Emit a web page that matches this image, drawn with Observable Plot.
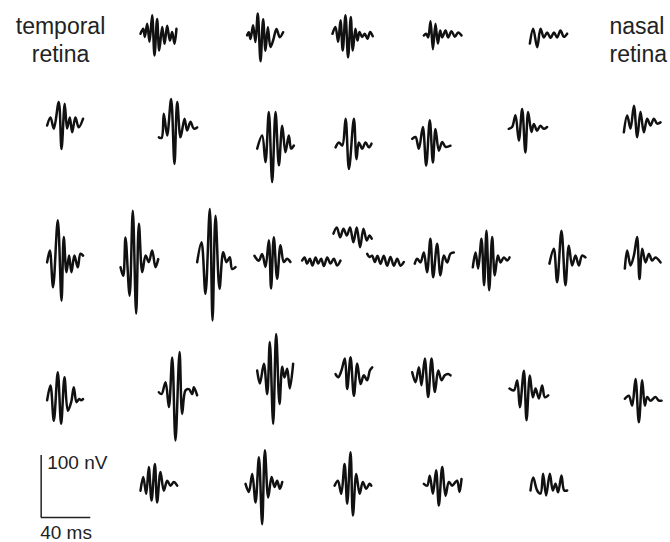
<!DOCTYPE html>
<html>
<head>
<meta charset="utf-8">
<script src="https://cdn.jsdelivr.net/npm/d3@7"></script>
<script src="https://cdn.jsdelivr.net/npm/@observablehq/plot@0.6"></script>
<style>
  body { margin: 0; background: #fff; }
  #chart { width: 670px; height: 542px; }
</style>
</head>
<body>
<div id="chart"></div>
<script>
// Multifocal responses: each trace is a list of [time after onset (ms), amplitude (nV)] vertices.
// Each element of the array has an onset (ms) and a baseline (nV) in the recording frame.

// Row 1 (top)
const row1Onset = [112.9, 198.9, 267.7, 341.4, 426.9];
const row1Baseline = [820.5, 816.1, 820.5, 817.7, 817.7];
const row1Responses = [
  [[0,0],[2.2,8],[3.5,-5],[5.4,16],[7.3,-13],[9.4,30],[11.3,-35],[13.4,24],[15.1,-27],[17.5,11],[19.4,-16],[21.5,13],[23.7,-11],[25.5,3],[27.4,-16],[29,8]],
  [[0,2],[1.3,7],[2.7,-4],[4.8,18],[6.7,-9],[8.6,37],[10.8,-40],[12.9,28],[14.8,-23],[16.7,15],[18.8,-17],[21,-6],[23.7,12],[26.3,-1],[29,7]],
  [[0,0],[2.4,11],[4.6,-13],[6.5,22],[8.3,-27],[10.5,30],[12.6,-38],[14.8,27],[16.4,-27],[18.5,8],[20.2,-11],[21.8,3],[23.9,-5],[26.1,0],[28.2,-8],[30.4,3],[32.5,-4]],
  [[0,0],[1.9,3],[3.5,-3],[5.4,23],[7.3,-22],[9.4,19],[11.3,-13],[13.2,8],[14.8,-3],[17.5,8],[19.6,-3],[22.3,7],[25,-2],[27.7,5],[30.4,0]],
  [[0,-13],[2.7,11],[5.9,-19],[8.6,11],[11.3,-3],[14,5],[16.7,-4],[19.4,5],[22,-3],[24.7,8],[27.4,-2],[30.1,3]]
];

// Row 2
const row2Onset = [37.6, 127.7, 207.0, 270.2, 332.0, 409.9, 502.7];
const row2Baseline = [672.6, 656.5, 640.3, 640.3, 643.0, 667.2, 672.6];
const row2Responses = [
  [[0,0],[2.7,13],[5.4,-5],[9.4,38],[11.6,-38],[14.2,35],[16.1,-5],[18.3,13],[20.2,-11],[22.8,13],[25.5,-3],[29,11]],
  [[0,-3],[2.2,-4],[4,35],[6.7,0],[9.9,59],[12.6,-46],[14.8,54],[17.5,-3],[20.7,27],[22.8,8],[25.5,22],[28.2,11],[30.9,13]],
  [[0,-5],[4,16],[6.7,-27],[9.4,54],[12.1,-59],[14.8,54],[17.5,-32],[20.2,32],[22.8,-11],[25.5,16],[27.4,-5],[29.6,0]],
  [[0,-3],[2.7,5],[5.4,0],[8.1,43],[10.8,-38],[14.8,43],[16.9,-22],[18.8,5],[21.5,-5],[24.2,5],[26.9,-3],[29,3]],
  [[0,8],[2.7,11],[5.4,-8],[8.6,27],[11.3,-35],[14.2,38],[16.7,-30],[18.8,24],[21.5,-11],[24.2,3],[26.9,-5],[30.9,-3]],
  [[0,0],[2.7,3],[5.4,22],[8.1,-19],[10.8,32],[13.4,-38],[15.6,27],[18.3,-5],[20.2,8],[22.8,-3],[25.5,5],[28.2,0],[30.9,3]],
  [[0,-11],[2.7,16],[5.4,-5],[8.1,32],[10.8,-19],[13.4,22],[16.1,-11],[18.8,11],[21.5,0],[24.2,11],[26.9,3],[29.6,5]]
];

// Row 3 (middle)
const row3Onset = [37.6, 96.8, 158.6, 204.8, 243.3, 268.5, 295.7, 334.1, 380.9, 442.7, 503.5];
const row3Baseline = [454.8, 452.1, 452.1, 457.5, 454.8, 495.2, 457.5, 454.8, 454.8, 454.8, 454.8];
const row3Responses = [
  [[0,-3],[2.2,16],[4.8,-43],[8.6,65],[11.6,-65],[13.4,38],[15.6,-19],[17.7,8],[19.6,-19],[22,8],[24.7,-11],[26.9,11],[29,8]],
  [[0,-8],[2.2,-22],[4,40],[7.3,-54],[9.9,83],[12.6,-83],[14.8,62],[17.5,-16],[20.2,11],[22.8,0],[25.5,19],[28.2,-8],[30.4,5]],
  [[0,0],[3.5,32],[6.7,-51],[10.2,86],[12.4,-94],[14.8,75],[18,-43],[21,16],[23.7,0],[26.3,8],[28.2,-11],[30.9,-8]],
  [[0,5],[3.5,-3],[6.2,8],[8.9,-13],[11.6,30],[13.4,-48],[15.6,35],[18.3,-32],[21,22],[23.7,-5],[26.3,0],[29,-5]],
  [[0,0],[1.9,5],[4,-5],[6.2,3],[8.3,-8],[10.8,5],[12.9,-5],[15.3,3],[17.5,-9],[20.2,5],[22.8,-5],[25.5,3],[28.2,-8],[30.9,0]],
  [[0,3],[2.7,13],[5.4,-3],[8.1,11],[10.8,0],[13.4,13],[16.1,-11],[18.8,13],[21.5,-19],[24.2,11],[26.9,-8],[29,0],[30.9,-5]],
  [[0,8],[1.9,3],[4,5],[6.2,-5],[8.3,5],[10.8,-8],[13.4,5],[16.1,-11],[18.8,3],[21.5,-11],[24.2,0],[26.9,-11],[29.6,-5]],
  [[0,-5],[1.9,3],[4.6,-3],[7.3,13],[9.9,-19],[12.6,35],[14.8,-27],[18,27],[20.7,-24],[23.4,8],[26.1,-3],[28.8,11],[31.5,13]],
  [[0,-11],[2.2,13],[4.3,-13],[7,35],[9.1,-40],[11,48],[13.2,-48],[15.6,38],[17.7,-24],[20.2,8],[22.3,-3],[25,5],[27.7,0],[29.6,5]],
  [[0,-5],[3.5,19],[6.2,-35],[9.7,48],[12.9,-40],[15.6,24],[18.3,-8],[21,8],[23.7,-8],[26.3,8],[29,5]],
  [[0,-13],[1.9,16],[4.6,-8],[7.3,8],[9.9,38],[11.8,-30],[14,19],[16.7,-3],[19.4,11],[22,0],[24.7,5],[28.8,-3]]
];

// Row 4
const row4Onset = [37.6, 127.7, 207.0, 270.2, 332.0, 410.5, 503.5];
const row4Baseline = [234.4, 242.4, 261.3, 266.6, 266.6, 245.2, 231.8];
const row4Responses = [
  [[0,-5],[2.7,19],[5.4,-38],[8.6,40],[11.3,-43],[14,32],[16.7,-22],[19.4,-8],[21.5,16],[23.7,-8],[25.8,-3],[27.4,-5],[29,-3]],
  [[0,0],[2.2,-3],[5.4,16],[8.1,-24],[10.8,56],[13.4,-78],[16.7,65],[18.8,-35],[21.5,3],[24.2,5],[26.9,-3],[28.2,8],[30.9,-5]],
  [[0,16],[2.2,-5],[5.4,27],[8.1,-22],[10.2,62],[12.9,-70],[15.3,75],[18,-38],[20.2,22],[22,5],[24.2,19],[26.3,-13],[29,27]],
  [[0,5],[2.2,0],[4.8,11],[7.5,30],[9.4,-19],[12.1,32],[14.8,-30],[17.5,22],[20.2,-11],[22.8,3],[25.5,-5],[27.7,11],[29.6,16]],
  [[0,8],[2.7,-8],[5.4,16],[7.5,-13],[10.2,30],[12.9,-32],[15.6,30],[18.3,-24],[21,11],[23.7,-5],[26.3,3],[29,5],[30.9,3]],
  [[0,3],[3.5,0],[6.2,16],[8.3,-27],[11.6,32],[13.7,-48],[16.4,24],[18.8,-11],[21,3],[23.7,-13],[26.3,8],[28.5,-11],[31.2,-8]],
  [[0,0],[3.2,5],[5.9,-11],[8.6,32],[11.3,-38],[14,30],[16.1,-11],[18,3],[20.7,-3],[24.7,3],[27.4,-3],[29.6,-3]]
];

// Row 5 (bottom)
const row5Onset = [112.9, 197.6, 269.4, 341.4, 427.4];
const row5Baseline = [94.6, 94.6, 94.6, 94.6, 91.9];
const row5Responses = [
  [[0,-11],[2.2,11],[4.6,-16],[6.7,27],[8.9,-27],[11.6,32],[13.4,-30],[16.1,19],[18.8,-11],[21.5,5],[24.2,-3],[26.9,3],[29.6,-3]],
  [[0,0],[2.7,-13],[5.4,16],[8.1,-30],[10.8,43],[13.4,-65],[15.6,54],[18.3,-22],[21,11],[23.4,-5],[25.5,5],[27.7,-8],[29.6,3]],
  [[0,-3],[2.7,5],[5.4,-16],[8.1,32],[10.2,-32],[12.9,51],[14.8,-51],[17.5,16],[20.2,-16],[22.8,3],[25.5,-8],[28.2,0],[29.6,-3]],
  [[0,0],[2.7,-3],[4.8,13],[7.3,-16],[9.9,22],[12.1,-35],[14.8,27],[17.5,-19],[20.2,3],[22.8,-3],[25.5,3],[26.9,5],[28.8,-13],[30.4,8]],
  [[0,-8],[2.2,13],[5.4,-8],[8.1,-13],[10.2,19],[12.6,-16],[15.6,19],[18,-8],[20.2,3],[22.3,-11],[25,16],[27.2,-8],[29.6,-8]]
];

// Calibration bar
const barMs = 40;
const barNv = 100;
const barOrigin = {ms: 32.8, nV: 40.3};

const sideLabels = ["temporal\nretina", "nasal\nretina"];

// Frame: 1.24 px per ms horizontally, 0.62 px per nV vertically
const W = 670, H = 542;
const pxPerMs = 1.24, pxPerNv = 0.62;

const rows = [
  [row1Onset, row1Baseline, row1Responses],
  [row2Onset, row2Baseline, row2Responses],
  [row3Onset, row3Baseline, row3Responses],
  [row4Onset, row4Baseline, row4Responses],
  [row5Onset, row5Baseline, row5Responses]
];

const samples = [];
rows.forEach(([onsets, baselines, responses], r) => {
  responses.forEach((trace, k) => {
    for (const [t, v] of trace) {
      samples.push({id: `${r}-${k}`, t: onsets[k] + t, v: baselines[k] + v});
    }
  });
});

const font = "'Liberation Sans', Arial, Helvetica, sans-serif";

const chart = Plot.plot({
  width: W,
  height: H,
  margin: 0,
  x: {domain: [0, W / pxPerMs], axis: null},
  y: {domain: [0, H / pxPerNv], axis: null},
  style: {fontFamily: font, background: "#fff"},
  marks: [
    Plot.line(samples, {
      x: "t", y: "v", z: "id",
      stroke: "#111", strokeWidth: 2.5, curve: "catmull-rom",
      strokeLinejoin: "round", strokeLinecap: "round"
    }),
    // calibration bar
    Plot.ruleX([barOrigin.ms], {y1: barOrigin.nV, y2: barOrigin.nV + barNv, stroke: "#222", strokeWidth: 1.5}),
    Plot.ruleY([barOrigin.nV], {x1: barOrigin.ms, x2: barOrigin.ms + barMs, stroke: "#222", strokeWidth: 1.5}),
    Plot.text([`${barNv} nV`], {
      x: barOrigin.ms, y: barOrigin.nV + barNv, text: d => d,
      textAnchor: "start", lineAnchor: "top", dx: 6, dy: 0,
      fontSize: 19, fill: "#222"
    }),
    Plot.text([`${barMs} ms`], {
      x: barOrigin.ms, y: barOrigin.nV, text: d => d,
      textAnchor: "start", lineAnchor: "top", dx: -1, dy: 8,
      fontSize: 19, fill: "#222"
    }),
    // side labels
    Plot.text([sideLabels[0]], {
      frameAnchor: "top-left", text: d => d, textAnchor: "middle",
      dx: 60, dy: 14, fontSize: 23, lineHeight: 1.22, fill: "#222"
    }),
    Plot.text([sideLabels[1]], {
      frameAnchor: "top-left", text: d => d, textAnchor: "start",
      dx: 609, dy: 14, fontSize: 23, lineHeight: 1.22, fill: "#222"
    })
  ]
});

document.getElementById("chart").append(chart);
</script>
</body>
</html>
